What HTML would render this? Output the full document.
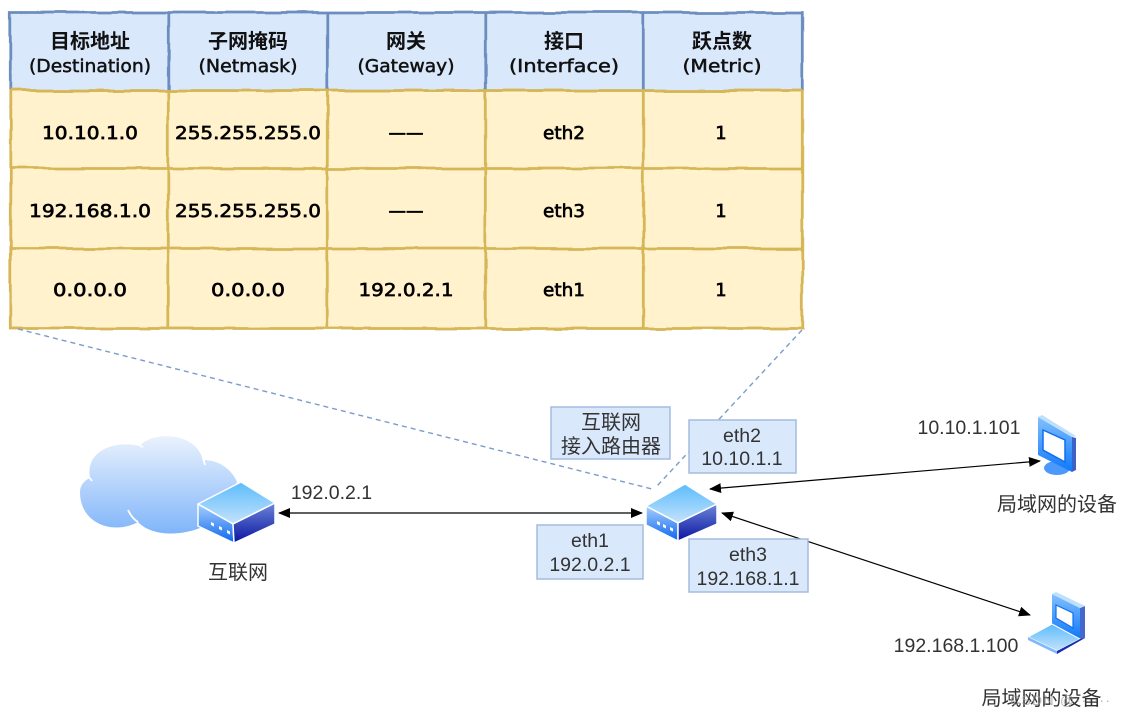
<!DOCTYPE html>
<html lang="zh">
<head>
<meta charset="utf-8">
<title>路由表示意图</title>
<style>
html,body{margin:0;padding:0;background:#fff;width:1125px;height:718px;overflow:hidden}
svg{display:block}
.h{font:bold 20px "DejaVu Sans","Noto Sans CJK SC",sans-serif;fill:#111;text-anchor:middle}
.l{font:18px "DejaVu Sans",sans-serif;fill:#111;text-anchor:middle;stroke:#111;stroke-width:.5}
.c{font:18px "DejaVu Sans",sans-serif;fill:#000;text-anchor:middle;stroke:#000;stroke-width:.65}
.t{font:19.500px "Liberation Sans","Noto Sans CJK SC",sans-serif;fill:#333;text-anchor:middle}
.z{font:20px "Liberation Sans","Noto Sans CJK SC",sans-serif;fill:#333;text-anchor:middle}
</style>
</head>
<body>
<svg width="1125" height="718" viewBox="0 0 1125 718" xmlns="http://www.w3.org/2000/svg">
<defs>
<filter id="w" x="-2%" y="-2%" width="104%" height="104%">
<feTurbulence type="fractalNoise" baseFrequency="0.025" numOctaves="2" seed="4"/>
<feDisplacementMap in="SourceGraphic" scale="4" xChannelSelector="R" yChannelSelector="G"/>
</filter>
<linearGradient id="cl" x1="0" y1="0" x2="0" y2="1"><stop offset="0" stop-color="#eaf2fd"/><stop offset="1" stop-color="#80b5fa"/></linearGradient>
<linearGradient id="top" x1="0" y1="0" x2="0" y2="1"><stop offset="0" stop-color="#5cbcfc"/><stop offset="1" stop-color="#c4e2fc"/></linearGradient>
<linearGradient id="fr" x1="0" y1="0" x2="0" y2="1"><stop offset="0" stop-color="#a8d0fc"/><stop offset="1" stop-color="#0c66f0"/></linearGradient>
<linearGradient id="rt" x1="0" y1="0" x2="0" y2="1"><stop offset="0" stop-color="#6c86d8"/><stop offset="1" stop-color="#0a14a0"/></linearGradient>
<linearGradient id="sc" x1="0" y1="0" x2="0" y2="1"><stop offset="0" stop-color="#82c0fd"/><stop offset="1" stop-color="#0f78fa"/></linearGradient>
<marker id="a" markerWidth="12" markerHeight="10" refX="11" refY="5" orient="auto-start-reverse" markerUnits="userSpaceOnUse"><path d="M0 0L12 5L0 10Z" fill="#000"/></marker>
</defs>

<!-- table -->
<g transform="translate(0.300 0.500)">
<g filter="url(#w)" stroke-width="2.8">
<rect x="10" y="90" width="792" height="238" fill="#fff2cc" stroke="#d6b656"/>
<path d="M10 168H802M10 248H802M168 90V328M327 90V328M485 90V328M643 90V328" fill="none" stroke="#d6b656"/>
<path d="M10 90V12H802V90" fill="#dae8fc" stroke="#6c8ebf"/>
<path d="M168 12V90M327 12V90M485 12V90M643 12V90" fill="none" stroke="#6c8ebf"/>
<path d="M10 90H802" fill="none" stroke="#d6b656"/>
</g>
</g>

<text class="h" x="90" y="48">目标地址</text>
<text class="h" x="248" y="48">子网掩码</text>
<text class="h" x="406" y="48">网关</text>
<text class="h" x="564" y="48">接口</text>
<text class="h" x="722" y="48">跃点数</text>
<text class="l" x="90" y="72" textLength="122" lengthAdjust="spacingAndGlyphs">(Destination)</text>
<text class="l" x="248" y="72" textLength="99" lengthAdjust="spacingAndGlyphs">(Netmask)</text>
<text class="l" x="406" y="72" textLength="97" lengthAdjust="spacingAndGlyphs">(Gateway)</text>
<text class="l" x="564" y="72" textLength="110" lengthAdjust="spacingAndGlyphs">(Interface)</text>
<text class="l" x="722" y="72" textLength="79" lengthAdjust="spacingAndGlyphs">(Metric)</text>

<text class="c" x="90" y="139" textLength="96" lengthAdjust="spacingAndGlyphs">10.10.1.0</text>
<text class="c" x="248" y="139" textLength="146" lengthAdjust="spacingAndGlyphs">255.255.255.0</text>
<text class="c" x="406" y="139" textLength="35" lengthAdjust="spacingAndGlyphs">——</text>
<text class="c" x="564" y="139" textLength="42" lengthAdjust="spacingAndGlyphs">eth2</text>
<text class="c" x="721" y="139">1</text>

<text class="c" x="90" y="217" textLength="122" lengthAdjust="spacingAndGlyphs">192.168.1.0</text>
<text class="c" x="248" y="217" textLength="146" lengthAdjust="spacingAndGlyphs">255.255.255.0</text>
<text class="c" x="406" y="217" textLength="35" lengthAdjust="spacingAndGlyphs">——</text>
<text class="c" x="564" y="217" textLength="42" lengthAdjust="spacingAndGlyphs">eth3</text>
<text class="c" x="721" y="217">1</text>

<text class="c" x="90" y="296" textLength="74" lengthAdjust="spacingAndGlyphs">0.0.0.0</text>
<text class="c" x="248" y="296" textLength="74" lengthAdjust="spacingAndGlyphs">0.0.0.0</text>
<text class="c" x="406" y="296" textLength="95" lengthAdjust="spacingAndGlyphs">192.0.2.1</text>
<text class="c" x="564" y="296" textLength="42" lengthAdjust="spacingAndGlyphs">eth1</text>
<text class="c" x="721" y="296">1</text>

<!-- dashed callouts -->
<path d="M18 329L652 489M802 330L657 486" fill="none" stroke="#7a9ccb" stroke-width="1.400" stroke-dasharray="5 4"/>

<!-- cloud -->
<path d="M90 478C85 450 115 440 140 446C150 432 195 430 203 460C220 460 232 470 237 482L215 520C195 535 155 540 138 522C115 535 80 525 80 492C80 485 85 480 90 478Z" fill="url(#cl)"/>
<path d="M89 477L92 481M140 446L143 447M203 458L205 465M128 510C132 518 135 520 138 522" fill="none" stroke="#fff" stroke-width="1.800"/>

<!-- big router -->
<g stroke="#fff" stroke-width="1.500" stroke-linejoin="round">
<path d="M241 482L275 503L233 524L198 504Z" fill="url(#top)"/>
<path d="M198 504L233 524L234 543L198 526Z" fill="url(#fr)"/>
<path d="M233 524L275 503V524L234 543Z" fill="url(#rt)"/>
</g>
<path d="M211 522l3 1.500v3l-3-1.500zM219 526l3 1.500v3l-3-1.500zM227 530l3 1.500v3l-3-1.500z" fill="#fff"/>

<!-- small router -->
<g stroke="#fff" stroke-width="1.500" stroke-linejoin="round">
<path d="M685 484L717 504L678 523L646 506Z" fill="url(#top)"/>
<path d="M646 506L678 523V541L646 525Z" fill="url(#fr)"/>
<path d="M678 523L717 504V524L678 541Z" fill="url(#rt)"/>
</g>
<path d="M657 521l3 1.500v3l-3-1.500zM663 524l3 1.500v3l-3-1.500zM670 527l3 1.500v3l-3-1.500z" fill="#fff"/>

<!-- connectors -->
<g fill="none" stroke="#000" stroke-width="1.200">
<path d="M279 513H642" marker-start="url(#a)" marker-end="url(#a)"/>
<path d="M710 489L1040 461" marker-start="url(#a)" marker-end="url(#a)"/>
<path d="M722 513L1030 615" marker-start="url(#a)" marker-end="url(#a)"/>
</g>

<!-- label boxes -->
<g fill="#dae8fc" stroke="#a4bcdd" stroke-width="1.500">
<rect x="551" y="407" width="119" height="52"/>
<rect x="689" y="420" width="107" height="53"/>
<rect x="537" y="525" width="106" height="54"/>
<rect x="689" y="539" width="119" height="53"/>
</g>
<text class="z" x="611" y="429">互联网</text>
<text class="z" x="611" y="453">接入路由器</text>
<text class="t" x="742" y="442">eth2</text>
<text class="t" x="742" y="465">10.10.1.1</text>
<text class="t" x="590" y="547">eth1</text>
<text class="t" x="590" y="571">192.0.2.1</text>
<text class="t" x="748" y="561">eth3</text>
<text class="t" x="748" y="585">192.168.1.1</text>

<text class="t" x="331.500" y="499">192.0.2.1</text>
<text class="z" x="238" y="579">互联网</text>
<text class="t" x="969" y="434">10.10.1.101</text>
<text class="z" x="1057" y="511">局域网的设备</text>
<text class="t" x="956" y="652">192.168.1.100</text>
<text class="z" x="1041.500" y="705">局域网的设备</text>
<text x="1010" y="705" font-family="Liberation Sans,sans-serif" font-size="14" fill="#999" opacity=".7" textLength="100">CSDN @······</text>

<!-- monitor -->
<path d="M1072 437L1076 438V470L1072 472Z" fill="#3a62c8"/>
<ellipse cx="1057" cy="468" rx="13" ry="7" fill="#4c98fb"/>
<path d="M1038 417L1072 437V472L1038 455Z" fill="url(#sc)"/>
<path d="M1038 417L1042 415L1076 436L1072 437Z" fill="#bfe0fd"/>
<path d="M1043 430L1065 440V462L1043 450Z" fill="#fff" stroke="#0f6ff0" stroke-width="1.500"/>

<!-- laptop -->
<path d="M1080 608L1085 606V638L1080 640Z" fill="#4468cc"/>
<path d="M1052 594L1080 608V639L1052 624Z" fill="url(#sc)"/>
<path d="M1052 594L1056 592L1085 606L1080 608Z" fill="#bfe0fd"/>
<path d="M1056 605L1073 613V628L1056 618Z" fill="#fff" stroke="#0f6ff0" stroke-width="1.200"/>
<path d="M1028 637L1052 624L1080 639L1057 651Z" fill="url(#top)" stroke="#fff" stroke-width="1"/>
<path d="M1028 637V640L1057 654V651Z" fill="#7fb8fb"/>
<path d="M1057 651V654L1085 638L1080 639Z" fill="#1530b0"/>
</svg>
</body>
</html>
